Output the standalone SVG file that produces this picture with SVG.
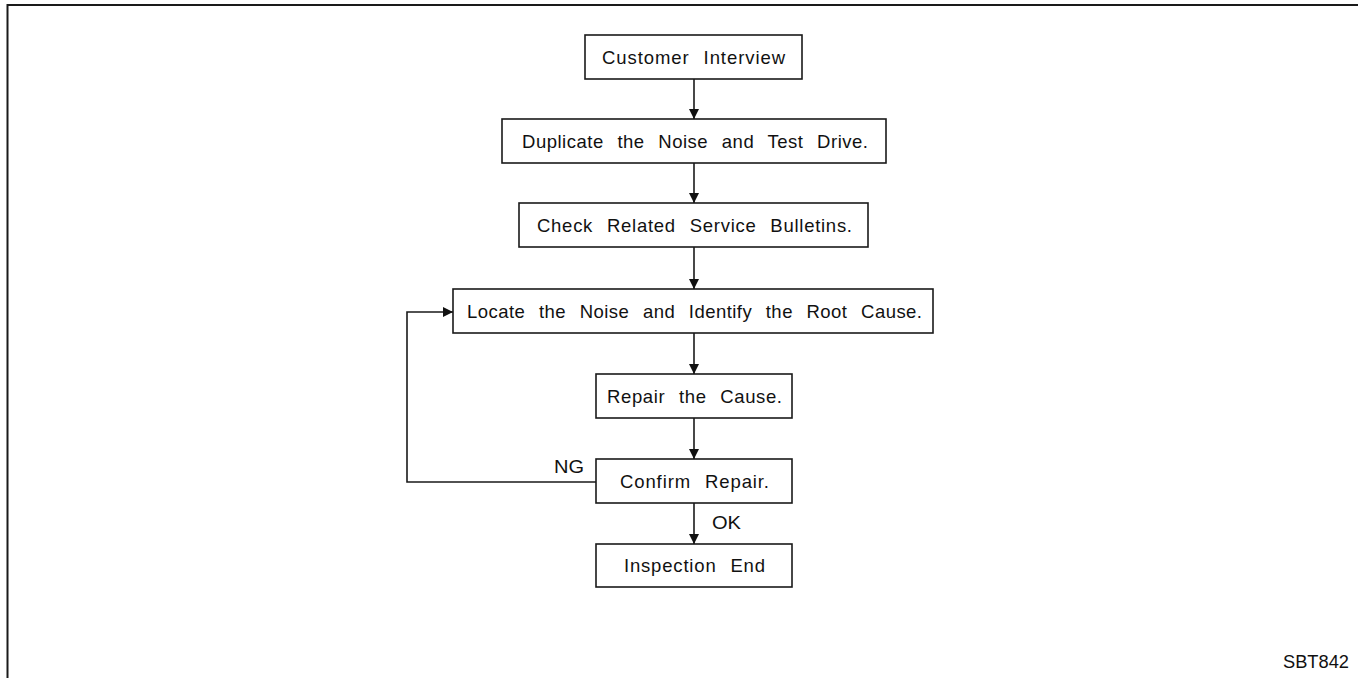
<svg xmlns="http://www.w3.org/2000/svg" width="1358" height="678" viewBox="0 0 1358 678">
<style>
.box{fill:#fff;stroke:#1a1a1a;stroke-width:1.6}
.t{font-family:"Liberation Sans",Arial,sans-serif;font-size:18.5px;fill:#111;text-anchor:start;word-spacing:8px}
.c{fill:none;stroke:#1a1a1a;stroke-width:1.6}
</style>
<defs>
<marker id="ah" markerWidth="10" markerHeight="10" refX="10" refY="5" orient="auto" markerUnits="userSpaceOnUse">
<path d="M0,0 L10,5 L0,10 Z" fill="#111"/>
</marker>
</defs>
<rect width="1358" height="678" fill="#fff"/>
<path d="M7.5,678 V5 H1358" fill="none" stroke="#1a1a1a" stroke-width="2"/>
<g id="n1"><rect class="box" x="585" y="35" width="217" height="44"/><text class="t" x="602" y="64" textLength="183" lengthAdjust="spacing">Customer Interview</text></g>
<g id="n2"><rect class="box" x="502" y="119" width="384" height="44"/><text class="t" x="522" y="148" textLength="346" lengthAdjust="spacing">Duplicate the Noise and Test Drive.</text></g>
<g id="n3"><rect class="box" x="519" y="203" width="349" height="44"/><text class="t" x="537" y="232" textLength="315" lengthAdjust="spacing">Check Related Service Bulletins.</text></g>
<g id="n4"><rect class="box" x="453" y="289" width="480" height="44"/><text class="t" x="467" y="318" textLength="455" lengthAdjust="spacing">Locate the Noise and Identify the Root Cause.</text></g>
<g id="n5"><rect class="box" x="596" y="374" width="196" height="44"/><text class="t" x="607" y="403" textLength="175" lengthAdjust="spacing">Repair the Cause.</text></g>
<g id="n6"><rect class="box" x="596" y="459" width="196" height="44"/><text class="t" x="620" y="488" textLength="149" lengthAdjust="spacing">Confirm Repair.</text></g>
<g id="n7"><rect class="box" x="596" y="544" width="196" height="43"/><text class="t" x="624" y="572" textLength="141" lengthAdjust="spacing">Inspection End</text></g>
<g id="connectors">
<line class="c" x1="694" y1="79" x2="694" y2="119" marker-end="url(#ah)"/>
<line class="c" x1="694" y1="163" x2="694" y2="203" marker-end="url(#ah)"/>
<line class="c" x1="694" y1="247" x2="694" y2="289" marker-end="url(#ah)"/>
<line class="c" x1="694" y1="333" x2="694" y2="374" marker-end="url(#ah)"/>
<line class="c" x1="694" y1="418" x2="694" y2="459" marker-end="url(#ah)"/>
<line class="c" x1="694" y1="503" x2="694" y2="544" marker-end="url(#ah)"/>
<polyline class="c" points="596,482 407,482 407,312 453,312" marker-end="url(#ah)"/>
<text class="t" x="554" y="473" textLength="30" lengthAdjust="spacingAndGlyphs">NG</text>
<text class="t" x="712" y="529" textLength="29" lengthAdjust="spacingAndGlyphs">OK</text>
</g>
<text class="t" x="1283" y="668" style="font-size:18px" textLength="66" lengthAdjust="spacingAndGlyphs">SBT842</text>
</svg>
